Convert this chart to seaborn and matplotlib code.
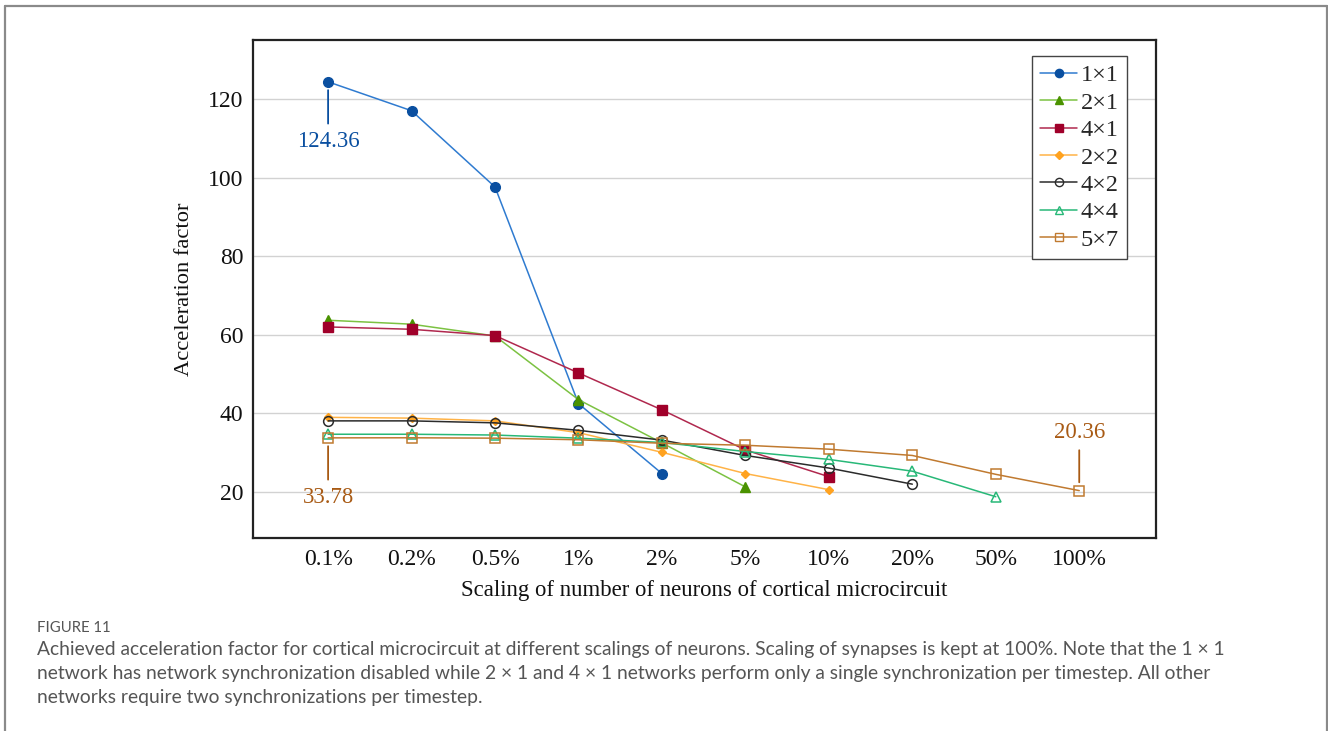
import numpy as np
import pandas as pd
import matplotlib
matplotlib.use("Agg")
import matplotlib.pyplot as plt
from matplotlib.lines import Line2D
import seaborn as sns

#================================資料===============================
scalings = ["0.1%", "0.2%", "0.5%", "1%", "2%", "5%", "10%", "20%", "50%", "100%"]

net_1x1 = [124.36, 117.0, 97.6, 42.5, 24.7]
net_2x1 = [63.7, 62.7, 59.7, 43.5, 32.5, 21.3]
net_4x1 = [62.0, 61.4, 59.8, 50.3, 40.9, 30.7, 23.9]
net_2x2 = [39.0, 38.8, 38.1, 35.1, 30.1, 24.7, 20.6]
net_4x2 = [38.1, 38.1, 37.6, 35.7, 33.2, 29.3, 26.1, 22.0]
net_4x4 = [34.7, 34.7, 34.5, 33.7, 32.6, 30.3, 28.3, 25.3, 18.8]
net_5x7 = [33.78, 33.8, 33.7, 33.3, 32.4, 31.9, 30.9, 29.3, 24.5, 20.36]

labels = ["1×1", "2×1", "4×1", "2×2", "4×2", "4×4", "5×7"]
series = [net_1x1, net_2x1, net_4x1, net_2x2, net_4x2, net_4x4, net_5x7]
#==================================================================

# 樣式: (線色, 標記色, 標記, 是否實心, 標記大小)
styles = [
    ("#2f7bd0", "#0a4fa0", "o", True, 7),
    ("#7cc242", "#4a9200", "^", True, 6.5),
    ("#b0284e", "#a0002a", "s", True, 7),
    ("#ffb347", "#ffa21f", "D", True, 4.5),
    ("#2b2b2b", "#2b2b2b", "o", False, 7),
    ("#28b878", "#28b878", "^", False, 6.5),
    ("#c07a30", "#c07a30", "s", False, 7),
]

sns.set_theme(style="white")
plt.rcParams["font.family"] = ["Liberation Serif", "DejaVu Serif"]

fig = plt.figure(figsize=(13.28, 7.31), dpi=100)
ax = fig.add_axes([0.1905, 0.264, 0.68, 0.6813])

for name, vals, (lc, mc, mk, filled, ms) in zip(labels, series, styles):
    df = pd.DataFrame({"x": np.arange(len(vals)), "y": vals})
    sns.lineplot(data=df, x="x", y="y", ax=ax, color=lc, linewidth=1.1,
                 marker=mk, markersize=ms,
                 markerfacecolor=mc if filled else "none",
                 markeredgecolor=mc, markeredgewidth=1.0 if filled else 1.1,
                 label=name, legend=False)

ax.set_xlim(-0.9, 9.92)
ax.set_ylim(8.3, 135)
ax.set_xticks(range(len(scalings)))
ax.set_xticklabels(scalings)
ax.set_yticks([20, 40, 60, 80, 100, 120])
ax.tick_params(axis="both", length=0, labelsize=17, colors="#111111")
ax.tick_params(axis="x", pad=8)
ax.tick_params(axis="y", pad=7)
ax.grid(axis="y", color="#d2d2d2", linewidth=1.0)
ax.set_axisbelow(True)
for sp in ax.spines.values():
    sp.set_color("#222222")
    sp.set_linewidth(1.6)

ax.set_xlabel("Scaling of number of neurons of cortical microcircuit", fontsize=16.4, labelpad=7, color="#111111")
ax.set_ylabel("Acceleration factor", fontsize=16.2, labelpad=10, color="#111111")

# 標註
ax.annotate("124.36", xy=(0, net_1x1[0]), xytext=(0, -43), textcoords="offset points",
            ha="center", va="center", fontsize=16.4, color="#0a4fa0",
            arrowprops=dict(arrowstyle="-", color="#0a4fa0", lw=1.3, shrinkA=3, shrinkB=6))
ax.annotate("33.78", xy=(0, net_5x7[0]), xytext=(0, -43), textcoords="offset points",
            ha="center", va="center", fontsize=16.4, color="#a85a14",
            arrowprops=dict(arrowstyle="-", color="#a85a14", lw=1.3, shrinkA=3, shrinkB=6))
ax.annotate("20.36", xy=(9, net_5x7[-1]), xytext=(0, 42), textcoords="offset points",
            ha="center", va="center", fontsize=16.4, color="#a85a14",
            arrowprops=dict(arrowstyle="-", color="#a85a14", lw=1.3, shrinkA=3, shrinkB=6))

# 圖例
handles = []
for name, (lc, mc, mk, filled, ms) in zip(labels, styles):
    handles.append(Line2D([0], [0], color=lc, lw=1.1, marker=mk,
                          markersize=ms * 0.85,
                          markerfacecolor=mc if filled else "none",
                          markeredgecolor=mc))
leg = ax.legend(handles, labels, loc="upper right", bbox_to_anchor=(0.968, 0.968),
                fontsize=17.5, frameon=True, fancybox=False, framealpha=1,
                edgecolor="#444444", handlelength=1.5, handletextpad=0.15,
                labelspacing=0.22, borderpad=0.35, borderaxespad=0)
leg.get_frame().set_linewidth(1.0)

# 圖說
cap_font = ["Lato", "DejaVu Sans"]
fig.text(37 / 1328, 1 - 628 / 731, "FIGURE 11", fontsize=10.7, color="#555555",
         family=cap_font, va="center", ha="left")
caption = [
    "Achieved acceleration factor for cortical microcircuit at different scalings of neurons. Scaling of synapses is kept at 100%. Note that the 1 × 1",
    "network has network synchronization disabled while 2 × 1 and 4 × 1 networks perform only a single synchronization per timestep. All other",
    "networks require two synchronizations per timestep.",
]
for i, line in enumerate(caption):
    fig.text(37 / 1328, 1 - (650 + 24 * i) / 731, line, fontsize=13.85, color="#555555",
             family=cap_font, va="center", ha="left")

# 外框
frame_kw = dict(color="#8a8a8a", lw=1.6, transform=fig.transFigure)
fig.add_artist(Line2D([4.5 / 1328, 4.5 / 1328], [0, 1 - 5.5 / 731], **frame_kw))
fig.add_artist(Line2D([4.5 / 1328, 1326.5 / 1328], [1 - 5.5 / 731, 1 - 5.5 / 731], **frame_kw))
fig.add_artist(Line2D([1326.5 / 1328, 1326.5 / 1328], [0, 1 - 5.5 / 731], **frame_kw))

plt.savefig("out.png", dpi=100)
plt.close()
